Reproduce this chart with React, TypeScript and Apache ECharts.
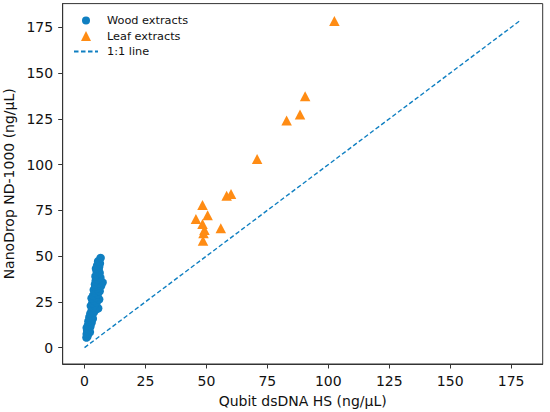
import React, { useEffect, useRef } from "react";
import * as echarts from "echarts";

const woodX = [0.8, 1.2, 0.9, 1.6, 2.2, 1.1, 1.8, 0.9, 2.4, 1.4, 2.0, 2.9, 1.6, 2.5, 3.4, 2.0, 3.0, 2.4, 3.8, 2.9, 4.6, 5.6, 3.4, 2.6, 4.2, 3.2, 5.0, 3.8, 6.0, 2.9, 4.6, 3.6, 5.4, 4.2, 6.2, 3.8, 5.0, 4.4, 6.8, 4.3, 5.8, 7.4, 4.6, 5.4, 6.5, 4.5, 5.0, 6.2, 5.0, 5.8, 4.7, 6.0, 5.2, 6.3, 5.6, 6.6];
const woodY = [5.5, 6.2, 7.4, 7.8, 8.5, 9.2, 10.1, 10.8, 11.5, 12.2, 13.0, 13.6, 14.4, 15.2, 15.8, 16.6, 17.5, 18.6, 19.2, 20.1, 20.8, 21.5, 21.9, 22.8, 23.4, 24.3, 24.9, 25.8, 26.4, 27.0, 27.6, 28.5, 29.2, 30.1, 30.8, 31.5, 32.2, 33.4, 33.8, 34.6, 35.3, 35.6, 36.4, 37.5, 38.2, 38.9, 40.0, 40.8, 41.8, 42.6, 43.2, 44.2, 45.0, 46.0, 47.2, 49.0];

const leafX = [102.5, 90.5, 88.4, 82.9, 70.8, 58.3, 60.1, 48.4, 45.7, 50.5, 48.4, 49.2, 48.8, 55.9, 48.6];
const leafY = [178.4, 137.4, 127.4, 124.1, 103.0, 83.0, 83.9, 77.9, 70.3, 72.3, 67.6, 64.3, 62.5, 65.2, 58.4];

const lineX = [0, 179];
const lineY = [0, 179];

const xTicks = [0, 25, 50, 75, 100, 125, 150, 175];
const yTicks = [0, 25, 50, 75, 100, 125, 150, 175];

const BLUE = "#0f7fc1";
const ORANGE = "#ff8c14";
const FONT = "DejaVu Sans";
const AX = "#333333";
const TRI_ICON = "path://M0,0M24,10M7,10L12,0L17,10Z";
const CIRCLE_ICON = "path://M0,0M24,10M8,5A4,4 0 1,0 16,5A4,4 0 1,0 8,5Z";

export default function App() {
  const ref = useRef<HTMLDivElement>(null);
  useEffect(() => {
    if (!ref.current) return;
    const chart = echarts.init(ref.current, undefined, { renderer: "svg" });
    const axisCommon = {
      type: "value" as const,
      min: -8.95,
      max: 187.95,
      splitLine: { show: false },
      axisLine: { show: true, onZero: false, lineStyle: { color: AX, width: 1 } },
      axisTick: { show: true, length: 4.5, lineStyle: { color: AX, width: 1 } },
      nameLocation: "middle" as const,
      nameTextStyle: { fontFamily: FONT, fontSize: 14, color: "#111" },
    };
    chart.setOption({
      animation: false,
      backgroundColor: "#ffffff",
      grid: {
        left: 62.7,
        right: 7.3,
        top: 3.6,
        bottom: 48,
        outerBoundsMode: "none",
        containLabel: false,
        show: true,
        borderColor: AX,
        borderWidth: 1,
        backgroundColor: "transparent",
      },
      legend: {
        orient: "vertical",
        left: 73,
        top: 15,
        padding: 0,
        itemWidth: 24,
        itemHeight: 10,
        itemGap: 4.5,
        textStyle: { fontFamily: FONT, fontSize: 11.3, color: "#111", padding: [0, 0, 0, 4] },
        data: [
          { name: "Wood extracts", icon: CIRCLE_ICON },
          { name: "Leaf extracts", icon: TRI_ICON },
          { name: "1:1 line", itemStyle: { opacity: 0 } },
        ],
      },
      xAxis: {
        ...axisCommon,
        name: "Qubit dsDNA HS (ng/μL)",
        nameGap: 30,
        axisTick: { ...axisCommon.axisTick, customValues: xTicks },
        axisLabel: {
          customValues: xTicks,
          margin: 10,
          fontFamily: FONT,
          fontSize: 14,
          color: "#111",
        },
      },
      yAxis: {
        ...axisCommon,
        name: "NanoDrop ND-1000 (ng/μL)",
        nameGap: 41,
        axisTick: { ...axisCommon.axisTick, customValues: yTicks },
        axisLabel: {
          customValues: yTicks,
          margin: 9.5,
          fontFamily: FONT,
          fontSize: 14,
          color: "#111",
        },
      },
      series: [
        {
          name: "Wood extracts",
          type: "scatter",
          symbol: "circle",
          symbolSize: 8.5,
          itemStyle: { color: BLUE, opacity: 1 },
          data: woodX.map((x, i) => [x, woodY[i]]),
        },
        {
          name: "Leaf extracts",
          type: "scatter",
          symbol: "triangle",
          symbolSize: [10.5, 10],
          itemStyle: { color: ORANGE, opacity: 1 },
          data: leafX.map((x, i) => [x, leafY[i]]),
        },
        {
          name: "1:1 line",
          type: "line",
          symbol: "none",
          showSymbol: false,
          lineStyle: { color: BLUE, width: 1.4, type: [4.5, 2.5] },
          itemStyle: { color: BLUE },
          data: lineX.map((x, i) => [x, lineY[i]]),
        },
      ],
    });
    return () => chart.dispose();
  }, []);
  return (
    <div
      ref={ref}
      style={{ position: "fixed", left: 0, top: 0, width: 550, height: 412, background: "#fff" }}
    />
  );
}
